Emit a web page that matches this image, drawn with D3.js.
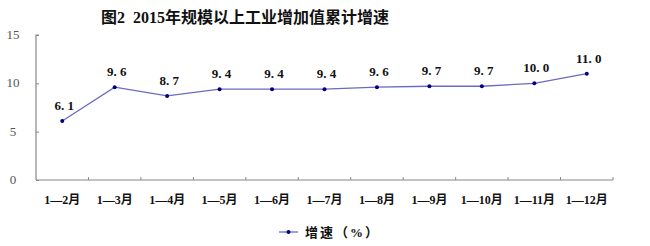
<!DOCTYPE html>
<html>
<head>
<meta charset="utf-8">
<script src="https://cdn.jsdelivr.net/npm/d3@7"></script>
<style>
  body { margin: 0; background: #fff; }
  svg { display: block; }
</style>
</head>
<body>
<svg></svg>
<script>
const PERIODS = ['1—2月', '1—3月', '1—4月', '1—5月', '1—6月', '1—7月', '1—8月', '1—9月', '1—10月', '1—11月', '1—12月'];
const GROWTH = [6.1, 9.6, 8.7, 9.4, 9.4, 9.4, 9.6, 9.7, 9.7, 10.0, 11.0];
const Y_TICKS = [0, 5, 10, 15];
const TITLE = '图2  2015年规模以上工业增加值累计增速';
const LEGEND_NAME = '增速（%）';

const WIDTH = 650, HEIGHT = 246;
const MARGINS = {left: 36, right: 37, top: 35, bottom: 66};
const serif = '"Liberation Serif", "Noto Sans CJK SC", serif';

const svg = d3.select('svg').attr('width', WIDTH).attr('height', HEIGHT);

const x = d3.scaleBand().domain(PERIODS).range([MARGINS.left, WIDTH - MARGINS.right]);
const y = d3.scaleLinear().domain([0, 15]).range([HEIGHT - MARGINS.bottom, MARGINS.top]);

// title
svg.append('text')
    .attr('x', 245).attr('y', 23)
    .attr('text-anchor', 'middle')
    .style('white-space', 'pre')
    .attr('font-family', serif).attr('font-weight', 'bold').attr('font-size', 16)
    .attr('fill', '#111')
    .text(TITLE);

// y axis (ticks point inward)
const yAxis = svg.append('g')
    .attr('transform', `translate(${MARGINS.left},0)`)
    .call(d3.axisRight(y).tickValues(Y_TICKS).tickSize(3).tickFormat(''));
yAxis.select('.domain').attr('stroke', '#888').attr('stroke-width', 1.2).attr('d', `M3,${y(15)}H0V${y(0)}`);
yAxis.selectAll('.tick line').attr('stroke', '#888');

svg.selectAll('.ylab').data(Y_TICKS).enter().append('text')
    .attr('class', 'ylab')
    .attr('x', 13).attr('y', d => y(d) + 4)
    .attr('text-anchor', 'middle')
    .attr('font-family', serif).attr('font-size', 13)
    .attr('fill', '#555')
    .text(d => d);

// x axis (ticks point up, at band edges)
const xAxis = svg.append('g')
    .attr('transform', `translate(0,${y(0)})`);
xAxis.append('path')
    .attr('d', `M${MARGINS.left},0H${WIDTH - MARGINS.right}`)
    .attr('stroke', '#888').attr('stroke-width', 1.2);
xAxis.selectAll('.xtick').data(PERIODS).enter().append('line')
    .attr('x1', d => x(d) + x.bandwidth()).attr('x2', d => x(d) + x.bandwidth())
    .attr('y1', 0).attr('y2', -3)
    .attr('stroke', '#888');
xAxis.selectAll('.xlab').data(PERIODS).enter().append('text')
    .attr('x', d => x(d) + x.bandwidth() / 2)
    .attr('y', 24)
    .attr('text-anchor', 'middle')
    .attr('font-family', serif).attr('font-weight', 'bold').attr('font-size', 12)
    .attr('fill', '#111')
    .text(d => d);

// line
const data = PERIODS.map((p, i) => ({period: p, value: GROWTH[i]}));
const line = d3.line()
    .x(d => x(d.period) + x.bandwidth() / 2)
    .y(d => y(d.value));

svg.append('path')
    .datum(data)
    .attr('d', line)
    .attr('fill', 'none')
    .attr('stroke', '#6a6ac0')
    .attr('stroke-width', 1.3);

svg.selectAll('.pt').data(data).enter().append('circle')
    .attr('cx', d => x(d.period) + x.bandwidth() / 2)
    .attr('cy', d => y(d.value))
    .attr('r', 2)
    .attr('fill', '#000080');

svg.selectAll('.vlab').data(data).enter().append('text')
    .attr('x', d => x(d.period) + x.bandwidth() / 2 + 2)
    .attr('y', d => y(d.value) - 11)
    .attr('text-anchor', 'middle')
    .style('white-space', 'pre')
    .attr('font-family', serif).attr('font-weight', 'bold').attr('font-size', 13)
    .attr('fill', '#111')
    .text(d => d.value.toFixed(1).replace('.', '. '));

// legend
const legend = svg.append('g').attr('transform', 'translate(279,232)');
legend.append('line').attr('x1', 0).attr('x2', 19).attr('y1', 0).attr('y2', 0)
    .attr('stroke', '#6a6ac0').attr('stroke-width', 1.3);
legend.append('circle').attr('cx', 9.5).attr('cy', 0).attr('r', 2).attr('fill', '#000080');
legend.append('text')
    .attr('x', 26).attr('y', 5)
    .attr('font-family', serif).attr('font-weight', 'bold').attr('font-size', 13)
    .attr('letter-spacing', 2)
    .attr('fill', '#111')
    .text(LEGEND_NAME);
</script>
</body>
</html>
